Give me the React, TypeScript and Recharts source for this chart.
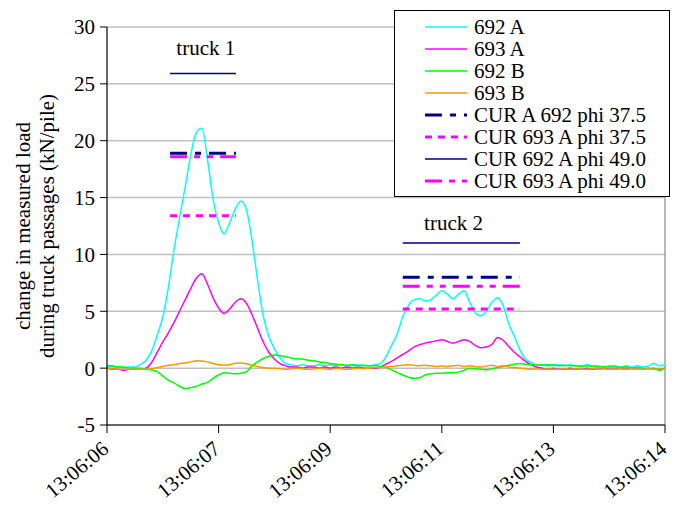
import React from 'react';
import { LineChart, Line, XAxis, YAxis, CartesianGrid, ReferenceLine, ReferenceDot } from 'recharts';

// sample index 0..100, tick every 20 samples
const xTickPos = [0, 20, 40, 60, 80, 100];
const xTickLabels = ['13:06:06', '13:06:07', '13:06:09', '13:06:11', '13:06:13', '13:06:14'];
const yTicks = [-5, 0, 5, 10, 15, 20, 25, 30];

const s692A = [
  0.2, 0.1, 0.1, 0.0, 0.1, 0.1, 0.3, 0.7, 1.5, 2.9,
  4.5, 7.1, 10.4, 13.2, 15.9, 18.7, 20.7, 21.1, 18.4, 14.9,
  12.8, 11.8, 12.8, 14.0, 14.7, 13.9, 11.2, 7.7, 4.6, 2.8,
  1.7, 0.9, 0.4, 0.3, 0.2, 0.3, 0.2, 0.2, 0.3, 0.2,
  0.3, 0.2, 0.3, 0.2, 0.2, 0.3, 0.2, 0.2, 0.3, 0.4,
  1.0, 2.0, 3.0, 4.5, 5.5, 6.0, 6.1, 5.9, 6.0, 6.4,
  6.8, 6.5, 6.1, 6.5, 6.8, 5.8, 4.9, 4.6, 5.0, 5.8,
  6.2, 5.5, 3.9, 2.8, 1.6, 0.8, 0.5, 0.3, 0.3, 0.2,
  0.3, 0.3, 0.2, 0.3, 0.2, 0.2, 0.3, 0.2, 0.2, 0.1,
  0.2, 0.2, 0.1, 0.2, 0.1, 0.2, 0.1, 0.2, 0.4, 0.2,
  0.3,
];
const s693A = [
  0.0, -0.1, -0.1, -0.2, -0.1, -0.1, -0.1, 0.0, 0.5, 1.4,
  2.3, 3.1, 4.0, 5.0, 6.0, 7.0, 7.9, 8.3, 7.4, 6.2,
  5.3, 4.8, 5.2, 5.8, 6.1, 5.7, 4.7, 3.5, 2.3, 1.4,
  0.8, 0.4, 0.2, 0.1, 0.1, 0.0, 0.1, 0.1, 0.0, 0.1,
  0.0, 0.1, 0.0, 0.1, 0.0, 0.1, 0.0, 0.0, 0.0, 0.1,
  0.35, 0.6, 0.9, 1.2, 1.5, 1.85, 2.05, 2.2, 2.3, 2.4,
  2.5, 2.35, 2.2, 2.35, 2.5, 2.35, 2.0, 1.8, 1.85, 2.1,
  2.7, 2.45, 1.9, 1.4, 1.0, 0.6, 0.3, 0.1, 0.0, -0.1,
  0.0, -0.1, -0.1, 0.0, -0.1, -0.1, 0.0, -0.1, -0.1, 0.0,
  -0.1, -0.1, 0.0, -0.1, 0.0, -0.1, -0.1, 0.0, -0.1, -0.1,
  0.0,
];
const s692B = [
  0.2, 0.2, 0.1, 0.1, 0.0, 0.0, 0.0, -0.1, -0.15, -0.3,
  -0.7, -1.05, -1.3, -1.6, -1.8, -1.7, -1.6, -1.4, -1.25, -0.9,
  -0.6, -0.4, -0.45, -0.5, -0.45, -0.3, 0.2, 0.55, 0.85, 1.05,
  1.15, 1.1, 1.0, 0.9, 0.8, 0.8, 0.7, 0.65, 0.55, 0.5,
  0.4, 0.35, 0.3, 0.25, 0.3, 0.2, 0.25, 0.2, 0.2, 0.15,
  0.05, -0.15, -0.4, -0.6, -0.8, -0.9, -0.85, -0.6, -0.5, -0.45,
  -0.45, -0.4, -0.4, -0.35, -0.2, 0.0, -0.05, -0.1, -0.15, -0.05,
  0.05, 0.15, 0.25, 0.35, 0.4, 0.35, 0.3, 0.3, 0.25, 0.3,
  0.25, 0.2, 0.25, 0.2, 0.2, 0.15, 0.2, 0.15, 0.1, 0.15,
  0.1, 0.1, 0.05, 0.1, 0.0, 0.05, 0.0, -0.05, 0.0, -0.2,
  0.0,
];
const s693B = [
  0.0, -0.05, -0.1, -0.1, -0.1, -0.1, -0.1, -0.1, -0.05, 0.05,
  0.15, 0.25, 0.3, 0.4, 0.45, 0.55, 0.65, 0.62, 0.55, 0.4,
  0.3, 0.27, 0.3, 0.42, 0.45, 0.38, 0.25, 0.12, 0.05, 0.0,
  0.0, -0.05, -0.1, -0.05, 0.0, -0.05, -0.1, -0.05, 0.0, -0.05,
  -0.1, 0.0, -0.05, -0.1, -0.05, 0.0, -0.05, 0.0, 0.05, 0.05,
  0.1, 0.15, 0.2, 0.25, 0.3, 0.25, 0.2, 0.25, 0.2, 0.15,
  0.2, 0.15, 0.2, 0.25, 0.15, 0.2, 0.15, 0.1, 0.2, 0.25,
  0.15, 0.2, 0.1, 0.05, 0.0, -0.05, -0.1, -0.05, -0.1, -0.05,
  -0.1, -0.1, -0.05, -0.1, -0.05, -0.1, -0.1, -0.05, -0.1, -0.05,
  -0.1, -0.1, -0.05, -0.1, -0.05, -0.1, -0.1, -0.05, -0.1, -0.05,
  -0.1,
];

// calculated (CUR) levels per truck passage
const truckStart = [11.3, 53.0];
const truckEnd = [23.1, 74.0];
const curA692phi375 = [18.9, 8.0];
const cur693Aphi375 = [13.4, 5.2];
const cur692Aphi490 = [25.9, 11.0];
const cur693Aphi490 = [18.6, 7.2];

const truckLabels = ['truck 1', 'truck 2'];
const truckLabelX = [17.7, 62.1];
const truckLabelY = [28.2, 12.8];

const FONT = '"Liberation Serif", "Times New Roman", serif';

const rows = s692A.map((v, i) => ({
  t: i,
  a692: v,
  a693: s693A[i],
  b692: s692B[i],
  b693: s693B[i],
}));

const curRows = (vals: number[]) => [
  { t: truckStart[0], v: vals[0] },
  { t: truckEnd[0], v: vals[0] },
  { t: (truckEnd[0] + truckStart[1]) / 2, v: null },
  { t: truckStart[1], v: vals[1] },
  { t: truckEnd[1], v: vals[1] },
];

const legendItems = [
  { name: '692 A', color: '#00FFFF', width: 1.5, dash: undefined },
  { name: '693 A', color: '#FF00FF', width: 1.5, dash: undefined },
  { name: '692 B', color: '#00FF00', width: 1.5, dash: undefined },
  { name: '693 B', color: '#FF9900', width: 1.5, dash: undefined },
  { name: 'CUR A 692 phi 37.5', color: '#000080', width: 3, dash: '17 8 6 8' },
  { name: 'CUR 693 A phi 37.5', color: '#FF00FF', width: 3, dash: '7 6' },
  { name: 'CUR 692 A phi 49.0', color: '#000080', width: 1.5, dash: undefined },
  { name: 'CUR 693 A phi 49.0', color: '#FF00FF', width: 3, dash: '17 7 6 7 6 7' },
];

const XTick = (props: any) => {
  const { x, y, payload } = props;
  const idx = xTickPos.indexOf(payload.value);
  return (
    <text
      transform={`translate(${x + 3}, ${y + 16}) rotate(-40)`}
      textAnchor="end"
      fontFamily={FONT}
      fontSize={21}
      fill="#000"
    >
      {xTickLabels[idx]}
    </text>
  );
};

const YTitle = () => (
  <g fontFamily={FONT} fontSize={21} fill="#000">
    <text transform="translate(30, 226) rotate(-90)" textAnchor="middle">change in measured load</text>
    <text transform="translate(54, 226) rotate(-90)" textAnchor="middle">during truck passages (kN/pile)</text>
  </g>
);

const ChartLegend = () => (
  <div
    style={{
      position: 'absolute',
      left: 394,
      top: 10,
      width: 276,
      height: 187,
      boxSizing: 'border-box',
      border: '1px solid #000',
      background: '#fff',
      paddingTop: 5,
      fontFamily: FONT,
      fontSize: 21,
    }}
  >
    {legendItems.map((it) => (
      <div key={it.name} style={{ display: 'flex', alignItems: 'center', height: 22 }}>
        <svg width={42} height={10} style={{ marginLeft: 30, marginRight: 7 }}>
          <line x1={0} y1={5} x2={42} y2={5} stroke={it.color} strokeWidth={it.width} strokeDasharray={it.dash} />
        </svg>
        <span style={{ lineHeight: '22px', whiteSpace: 'nowrap' }}>{it.name}</span>
      </div>
    ))}
  </div>
);

export default function App() {
  return (
    <div style={{ position: 'relative', width: 678, height: 508, background: '#fff' }}>
      <style>{'body{margin:0}'}</style>
      <LineChart width={678} height={508} data={rows} margin={{ top: 27, right: 13, bottom: 0, left: 0 }}>
        <CartesianGrid horizontal vertical={false} stroke="#c0c0c0" strokeWidth={1.5} />
        <XAxis
          dataKey="t"
          type="number"
          domain={[0, 100]}
          ticks={xTickPos}
          interval={0}
          height={83}
          tickSize={8}
          axisLine={{ stroke: '#000', strokeWidth: 1.2 }}
          tickLine={{ stroke: '#000' }}
          tick={<XTick />}
          allowDataOverflow
        />
        <YAxis
          type="number"
          domain={[-5, 30]}
          ticks={yTicks}
          interval={0}
          width={107}
          tickSize={7}
          tickMargin={5}
          axisLine={{ stroke: '#000', strokeWidth: 1.2 }}
          tickLine={{ stroke: '#000' }}
          tick={{ fill: '#000', fontSize: 21, fontFamily: FONT }}
          label={<YTitle />}
          allowDataOverflow
        />
        <ReferenceLine x={100} stroke="#a0a0a0" strokeWidth={1.5} />
        <Line dataKey="a692" stroke="#00FFFF" strokeWidth={1.5} dot={false} activeDot={false} type="monotone" isAnimationActive={false} />
        <Line dataKey="a693" stroke="#FF00FF" strokeWidth={1.5} dot={false} activeDot={false} type="monotone" isAnimationActive={false} />
        <Line dataKey="b692" stroke="#00FF00" strokeWidth={1.5} dot={false} activeDot={false} type="monotone" isAnimationActive={false} />
        <Line dataKey="b693" stroke="#FF9900" strokeWidth={1.5} dot={false} activeDot={false} type="monotone" isAnimationActive={false} />
        <Line data={curRows(cur692Aphi490)} dataKey="v" stroke="#000080" strokeWidth={1.5} dot={false} activeDot={false} type="linear" isAnimationActive={false} />
        <Line data={curRows(curA692phi375)} dataKey="v" stroke="#000080" strokeWidth={3} strokeDasharray="17 8 6 8" dot={false} activeDot={false} type="linear" isAnimationActive={false} />
        <Line data={curRows(cur693Aphi490)} dataKey="v" stroke="#FF00FF" strokeWidth={3} strokeDasharray="17 7 6 7 6 7" dot={false} activeDot={false} type="linear" isAnimationActive={false} />
        <Line data={curRows(cur693Aphi375)} dataKey="v" stroke="#FF00FF" strokeWidth={3} strokeDasharray="7 6" dot={false} activeDot={false} type="linear" isAnimationActive={false} />
        {truckLabels.map((lab, i) => (
          <ReferenceDot
            key={lab}
            x={truckLabelX[i]}
            y={truckLabelY[i]}
            r={0}
            fill="none"
            stroke="none"
            label={{ value: lab, position: 'center', fill: '#000', fontSize: 21, fontFamily: FONT }}
          />
        ))}
      </LineChart>
      <ChartLegend />
    </div>
  );
}
